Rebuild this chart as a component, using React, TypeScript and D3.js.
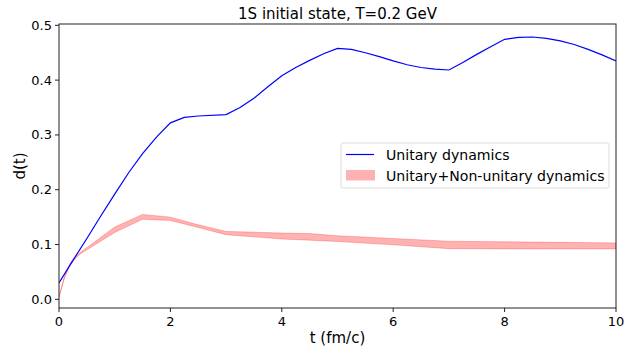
import React from 'react';
import * as d3 from 'd3';

// blue curve: unitary evolution
const tUnitary = [0, 0.25, 0.5, 0.75, 1, 1.25, 1.5, 1.75, 2, 2.25, 2.5, 3, 3.25, 3.5, 3.75, 4, 4.25, 4.5, 4.75, 5, 5.25, 5.5, 5.75, 6, 6.25, 6.5, 6.75, 7, 7.25, 7.5, 7.75, 8, 8.25, 8.5, 8.75, 9, 9.25, 9.5, 9.75, 10];
const dUnitary = [0.03, 0.071, 0.111, 0.152, 0.192, 0.231, 0.266, 0.296, 0.322, 0.332, 0.3345, 0.337, 0.35, 0.367, 0.388, 0.408, 0.423, 0.436, 0.448, 0.458, 0.456, 0.45, 0.443, 0.435, 0.428, 0.423, 0.42, 0.4185, 0.432, 0.447, 0.461, 0.4745, 0.478, 0.4787, 0.476, 0.4715, 0.465, 0.456, 0.446, 0.435];

// red band: unitary + non-unitary
const tBand = [0, 0.1, 0.2, 0.3, 0.4, 1, 1.5, 2, 2.5, 3, 4, 4.5, 5, 6, 7, 8, 9, 10];
const bandUpper = [0.006, 0.043, 0.066, 0.079, 0.087, 0.132, 0.155, 0.15, 0.136, 0.124, 0.121, 0.12, 0.116, 0.111, 0.106, 0.105, 0.104, 0.103];
const bandLower = [0.004, 0.039, 0.062, 0.075, 0.084, 0.122, 0.146, 0.144, 0.131, 0.118, 0.11, 0.108, 0.1055, 0.0995, 0.0925, 0.092, 0.092, 0.092];

const xTicks = [0, 2, 4, 6, 8, 10];
const yTicks = [0, 0.1, 0.2, 0.3, 0.4, 0.5];

const title = '1S initial state, T=0.2 GeV';
const legendLabels = ['Unitary dynamics', 'Unitary+Non-unitary dynamics'];

const W = 635;
const H = 346;
const m = { left: 59, right: 19, top: 24, bottom: 38 };
const font = 'DejaVu Sans, sans-serif';

export default function App() {
  const x = d3.scaleLinear().domain([0, 10]).range([m.left, W - m.right]);
  const y = d3.scaleLinear().domain([-0.0158, 0.5024]).range([H - m.bottom, m.top]);

  const line = d3.line<number>()
    .x((d, i) => x(tUnitary[i]))
    .y(d => y(d));

  const area = d3.area<number>()
    .x((d, i) => x(tBand[i]))
    .y0((d, i) => y(bandLower[i]))
    .y1(d => y(d));

  const x0 = m.left, x1 = W - m.right, y0 = m.top, y1 = H - m.bottom;
  const lgX = 341, lgY = 143;

  return (
    <svg width={W} height={H} style={{ position: 'absolute', left: 0, top: 0 }} fontFamily={font}>
      <rect width={W} height={H} fill="white" />
      <defs>
        <clipPath id="plot">
          <rect x={x0} y={y0} width={x1 - x0} height={y1 - y0} />
        </clipPath>
      </defs>
      <g clipPath="url(#plot)">
        <path d={area(bandUpper) ?? ''} fill="red" fillOpacity={0.3} stroke="red" strokeOpacity={0.3} strokeWidth={0.8} />
        <path d={line(dUnitary) ?? ''} fill="none" stroke="blue" strokeWidth={1.2} />
      </g>

      <rect x={x0} y={y0} width={x1 - x0} height={y1 - y0} fill="none" stroke="#222" strokeWidth={1} />

      {xTicks.map(t => (
        <g key={'x' + t}>
          <line x1={x(t)} x2={x(t)} y1={y1} y2={y1 + 4} stroke="#222" />
          <text x={x(t)} y={y1 + 18} fontSize={13} textAnchor="middle" fill="#000">{t}</text>
        </g>
      ))}
      {yTicks.map(t => (
        <g key={'y' + t}>
          <line x1={x0 - 4} x2={x0} y1={y(t)} y2={y(t)} stroke="#222" />
          <text x={x0 - 7} y={y(t) + 4.5} fontSize={13} textAnchor="end" fill="#000">{t.toFixed(1)}</text>
        </g>
      ))}

      <text x={(x0 + x1) / 2} y={19} fontSize={15} textAnchor="middle" fill="#000">{title}</text>
      <text x={(x0 + x1) / 2} y={343} fontSize={15} textAnchor="middle" fill="#000">t (fm/c)</text>
      <text transform={`translate(25,${(y0 + y1) / 2}) rotate(-90)`} fontSize={15} textAnchor="middle" fill="#000">d(t)</text>

      <rect x={lgX} y={lgY} width={268} height={45} rx={2} fill="white" fillOpacity={0.8} stroke="#ddd" />
      <line x1={346} x2={374} y1={154.5} y2={154.5} stroke="blue" strokeWidth={1.2} />
      <rect x={346} y={170} width={29} height={10.5} fill="red" fillOpacity={0.3} />
      <text x={386} y={159.5} fontSize={14.1} fill="#000">{legendLabels[0]}</text>
      <text x={386} y={180.5} fontSize={14.1} fill="#000">{legendLabels[1]}</text>
    </svg>
  );
}
